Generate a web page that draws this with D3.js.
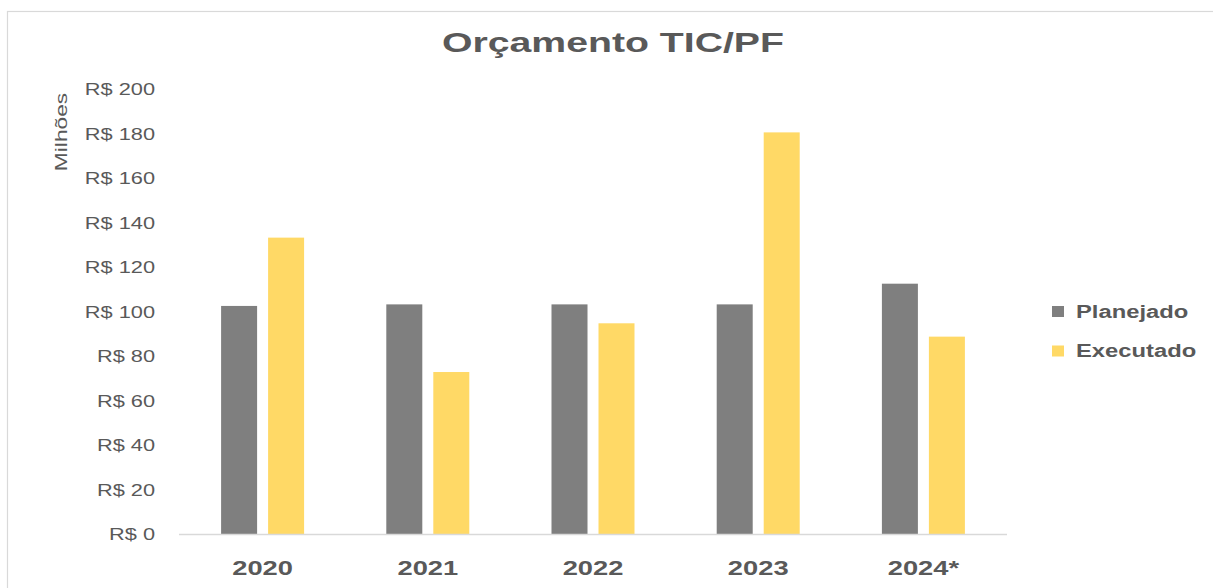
<!DOCTYPE html>
<html><head><meta charset="utf-8">
<script src="https://cdn.jsdelivr.net/npm/d3@7"></script>
<style>
html,body{margin:0;padding:0;background:#fff;}
svg{display:block;}
text{font-family:"Liberation Sans",Arial,sans-serif;fill:#595959;}
</style></head>
<body>
<svg id="chart" width="1213" height="588"></svg>
<script>
const categories = ["2020","2021","2022","2023","2024*"];
const seriesNames = ["Planejado","Executado"];
const planejado = [102.5, 103.2, 103.2, 103.2, 112.5];
const executado = [133.2, 72.8, 94.7, 180.5, 88.7];
const yTicks = [0,20,40,60,80,100,120,140,160,180,200];
const colors = ["#7f7f7f","#ffd966"];
const title = "Orçamento TIC/PF";
const yAxisTitle = "Milhões";

const svg = d3.select("#chart");
// horizontally stretched text, like the reference
function stretch(sel, k){
  sel.each(function(){
    const w = this.getComputedTextLength();
    d3.select(this).attr("textLength", w*k).attr("lengthAdjust","spacingAndGlyphs");
  });
}
// chart border
svg.append("rect").attr("x",7.5).attr("y",11.5).attr("width",1220).attr("height",600)
  .attr("fill","none").attr("stroke","#d9d9d9").attr("stroke-width",1.2);

const x0 = d3.scaleBand().domain(categories).range([180,1006]).paddingInner(0.4976).paddingOuter(0.2488);
const x1 = d3.scaleBand().domain(seriesNames).range([0,x0.bandwidth()]).paddingInner(0.234).paddingOuter(0);
const y = d3.scaleLinear().domain([0,200]).range([534,89]);

const data = categories.map((c,i)=>({cat:c, vals:[planejado[i],executado[i]]}));

const g = svg.append("g");
const groups = g.selectAll("g.grp").data(data).join("g").attr("class","grp")
  .attr("transform",d=>`translate(${x0(d.cat)},0)`);
groups.selectAll("rect").data(d=>d.vals.map((v,j)=>({s:seriesNames[j],v,j})))
  .join("rect")
  .attr("x",d=>x1(d.s)).attr("width",x1.bandwidth())
  .attr("y",d=>y(d.v)).attr("height",d=>y(0)-y(d.v))
  .attr("fill",d=>colors[d.j]);

// baseline
svg.append("line").attr("x1",179).attr("x2",1007).attr("y1",y(0)+0.5).attr("y2",y(0)+0.5)
  .attr("stroke","#d9d9d9").attr("stroke-width",1.5);

// y tick labels
const yAxis = d3.axisLeft(y).tickValues(yTicks).tickSize(0).tickPadding(0)
  .tickFormat(d=>"R$ " + d);
const ya = svg.append("g").attr("transform","translate(155,0)").call(yAxis);
ya.select(".domain").remove();
ya.selectAll("text").style("font-family","'Liberation Sans',Arial,sans-serif")
  .attr("font-size",16).attr("fill","#595959").attr("dy","0.35em").call(stretch,1.36);

// x labels
const xAxis = d3.axisBottom(x0).tickSize(0).tickPadding(0);
const xa = svg.append("g").attr("transform","translate(0,575)").call(xAxis);
xa.select(".domain").remove();
xa.selectAll("text").attr("font-size",21).attr("font-weight","bold").attr("fill","#595959")
  .attr("dy",0).call(stretch,1.3);

// y axis title
svg.append("text").attr("transform","translate(67,132) rotate(-90)")
  .attr("text-anchor","middle").attr("font-size",16).text(yAxisTitle).call(stretch,1.42);

// title
svg.append("text").attr("x",613).attr("y",52).attr("text-anchor","middle")
  .attr("font-size",28).attr("font-weight","bold").text(title).call(stretch,1.4);

// legend
const legend = svg.append("g");
const ly = [311.5, 351];
seriesNames.forEach((s,i)=>{
  legend.append("rect").attr("x",1052).attr("y",ly[i]-5.5).attr("width",12).attr("height",11).attr("fill",colors[i]);
  legend.append("text").attr("x",1076).attr("y",ly[i]).attr("dy","0.35em")
    .attr("font-size",18).attr("font-weight","bold").text(s).call(stretch,1.32);
});
</script>
</body></html>
